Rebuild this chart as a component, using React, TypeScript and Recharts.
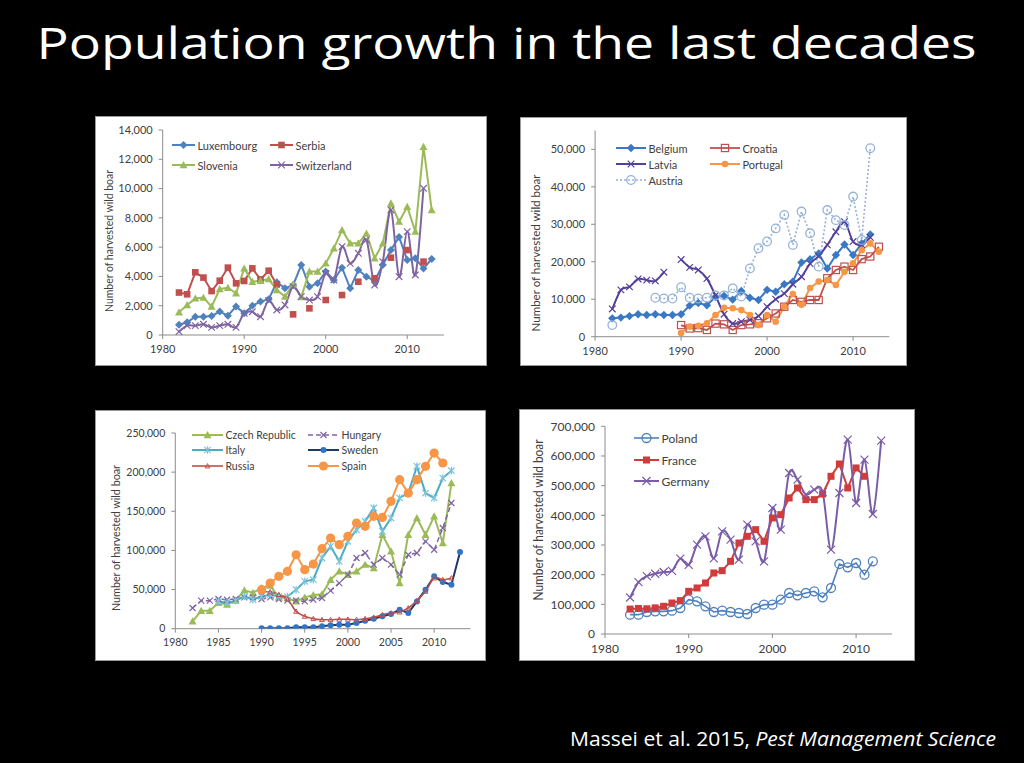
import React from 'react';
import { LineChart, Line, XAxis, YAxis, Legend } from 'recharts';

const FONT = 'Lato, "Open Sans", sans-serif';
const TITLE_FONT = '"Open Sans", Lato, sans-serif';
const TXT = '#404040';

// ---------- Panel 1 (1982–2013) ----------
const P1_YEARS = [1982, 1983, 1984, 1985, 1986, 1987, 1988, 1989, 1990, 1991, 1992, 1993, 1994, 1995, 1996, 1997, 1998, 1999, 2000, 2001, 2002, 2003, 2004, 2005, 2006, 2007, 2008, 2009, 2010, 2011, 2012, 2013];
const LUXEMBOURG = [700, 870, 1250, 1250, 1300, 1600, 1320, 1950, 1480, 2000, 2280, 2440, 3600, 3200, 3400, 4780, 3300, 3530, 4330, 3760, 4600, 3190, 4440, 3980, 3700, 4780, 5800, 6700, 5120, 5240, 4550, 5190];
const SERBIA = [2900, 2780, 4280, 3920, 3000, 3710, 4600, 3530, 3690, 4550, 3800, 4390, 3450, null, 1410, null, 1820, null, 2390, null, 2730, null, 3640, null, 3870, null, 5280, null, 5800, null, 5010, null];
const SLOVENIA = [1550, 2050, 2500, 2550, 1940, 3140, 3230, 2850, 4550, 3640, 3710, 3820, 3070, 2620, 3460, 2600, 4330, 4330, 4890, 5920, 7170, 6260, 6260, 6940, 5240, 6260, 8990, 7740, 8760, 7060, 12860, 8540];
const SWITZERLAND = [230, 640, 640, 730, 520, 640, 730, 520, 1480, 1590, 1250, 2350, 1710, 2050, 3300, 2620, 2390, 2620, 4210, 3760, 6030, 4890, 5580, 6490, 3410, 5000, 8540, 3980, 7060, 4100, 10020, null];
const P1_YTICKS = [0, 2000, 4000, 6000, 8000, 10000, 12000, 14000];
const P1_XTICKS = [1980, 1990, 2000, 2010];

// ---------- Panel 2 (1982–2013) ----------
const P2_YEARS = P1_YEARS;
const BELGIUM = [4900, 5100, 5500, 6000, 5800, 6000, 5800, 5800, 6000, 8300, 9000, 8400, 10600, 10900, 9900, 12200, 10400, 9800, 12500, 12000, 14000, 14700, 19800, 20700, 22200, 18200, 21800, 24600, 21800, 24900, 27300, null];
const CROATIA = [null, null, null, null, null, null, null, null, 3100, 2200, 2300, 1800, 3500, 3300, 1800, 3100, 3300, 3600, 4900, 6200, 8000, 9800, 9300, 9800, 9800, 15600, 17800, 18700, 17800, 20700, 21400, 24000];
const LATVIA = [7400, 12500, 13300, 15400, 15100, 14900, 17200, null, 20600, 18500, 17800, 15500, 11000, 6000, 3500, 4000, 4500, 5500, 8000, 10000, 11500, 14000, 16000, 19500, 21500, 24500, 28000, 30700, 25400, 24500, 26500, null];
const PORTUGAL = [null, null, null, null, null, null, null, null, 1000, 2700, 2900, 3600, 5800, 7700, 7600, 7100, 5800, 3100, 5800, 4000, 8000, 11400, 8500, 13000, 14700, 15100, 13800, 17300, 19600, 23100, 24900, 22700];
const AUSTRIA = [3100, null, null, null, null, 10400, 10200, 10200, 13200, 10400, 10200, 10400, 11000, 11000, 12900, 10700, 18200, 23600, 25400, 28900, 32500, 24500, 33400, 27600, 18700, 33800, 31100, 29800, 37400, 25800, 50300, null];
const P2_YTICKS = [0, 10000, 20000, 30000, 40000, 50000];
const P2_XTICKS = [1980, 1990, 2000, 2010];

// ---------- Panel 3 (1982–2013) ----------
const P3_YEARS = P1_YEARS;
const CZECH = [9400, 23000, 23000, 33000, 31000, 36000, 49000, 46000, 52000, 55000, 40000, 39000, 35000, 40000, 43000, 44000, 62600, 73300, 69000, 73300, 81800, 77500, 120100, 98800, 58300, 120100, 141400, 120100, 143500, 109500, 186100, null];
const HUNGARY = [26400, 35800, 35800, 38000, 37000, 38000, 40000, 40000, 38000, 40000, 38000, 36000, 36000, 34900, 37100, 39200, 48600, 58300, 69000, 90300, 96700, 81800, 90300, 81800, 69000, 94500, 96700, 111600, 100900, 128600, 160600, null];
const ITALY = [null, null, null, 35000, 33000, 35800, 41300, 37100, 41300, 43400, 41300, 41000, 49800, 60500, 62600, 90300, 105200, 86000, 111600, 126500, 137100, 154200, 124400, 141400, 167000, 173300, 207400, 173300, 167000, 192500, 201900, null];
const SWEDEN = [null, null, null, null, null, null, null, null, 500, 500, 600, 700, 1700, 1800, 2000, 3000, 4300, 5100, 5100, 7200, 10200, 12800, 15800, 18700, 24300, 20000, 34900, 49800, 66900, 59600, 56200, 98000];
const RUSSIA = [null, null, null, null, null, null, null, null, 47000, 47000, 43400, 38000, 22100, 15800, 12800, 11500, 11500, 12000, 12000, 11500, 12800, 14500, 17900, 20000, 21300, 26400, 35800, 47700, 64700, 62600, 64700, null];
const SPAIN = [null, null, null, null, null, null, null, null, 49800, 58300, 66900, 73300, 94500, 75400, 82600, 102200, 115800, 107300, 118000, 135000, 130800, 143500, 142200, 162700, 190400, 173300, 190400, 207400, 224400, 211700, null, null];
const P3_YTICKS = [0, 50000, 100000, 150000, 200000, 250000];
const P3_XTICKS = [1980, 1985, 1990, 1995, 2000, 2005, 2010];

// ---------- Panel 4 (1983–2013) ----------
const P4_YEARS = [1983, 1984, 1985, 1986, 1987, 1988, 1989, 1990, 1991, 1992, 1993, 1994, 1995, 1996, 1997, 1998, 1999, 2000, 2001, 2002, 2003, 2004, 2005, 2006, 2007, 2008, 2009, 2010, 2011, 2012, 2013];
const POLAND = [65200, 65200, 74200, 76400, 76400, 78700, 87600, 115700, 110100, 93300, 74200, 78700, 74200, 70800, 67400, 87600, 98900, 98900, 115700, 138200, 130300, 138200, 143800, 123600, 155100, 236000, 224700, 239300, 200000, 244900, null];
const FRANCE = [84000, 86000, 85000, 88000, 93300, 104500, 112400, 143800, 155100, 171900, 205600, 213500, 244900, 306700, 329200, 351700, 312400, 391000, 402200, 458400, 492100, 452800, 452800, 471900, 531500, 573000, 492100, 559600, 531500, null, null];
const GERMANY = [123000, 175000, 195000, 203000, 209000, 213000, 254000, 233000, 301000, 329000, 255000, 346100, 318000, 250600, 368500, 312400, 244900, 424700, 351700, 542700, 520200, 469700, 486500, 478000, 284300, 475300, 655100, 441600, 587600, 404500, 651700];
const P4_YTICKS = [0, 100000, 200000, 300000, 400000, 500000, 600000, 700000];
const P4_XTICKS = [1980, 1990, 2000, 2010];

const Y_LABEL = 'Number of harvested wild boar';

// Catmull-Rom style smoothing (like Excel "smoothed line")
const smoothCurve: any = (context: any) => {
  let pts: number[][] = [];
  return {
    areaStart() {},
    areaEnd() {},
    lineStart() { pts = []; },
    lineEnd() {
      if (!pts.length) return;
      context.moveTo(pts[0][0], pts[0][1]);
      for (let i = 0; i < pts.length - 1; i++) {
        const p0 = pts[i - 1] || pts[i];
        const p1 = pts[i];
        const p2 = pts[i + 1];
        const p3 = pts[i + 2] || p2;
        const t = 1 / 6;
        context.bezierCurveTo(
          p1[0] + (p2[0] - p0[0]) * t, p1[1] + (p2[1] - p0[1]) * t,
          p2[0] - (p3[0] - p1[0]) * t, p2[1] - (p3[1] - p1[1]) * t,
          p2[0], p2[1]
        );
      }
    },
    point(x: number, y: number) { pts.push([+x, +y]); },
  };
};

type S = {
  key: string; name: string; color: string; width: number; dash?: string;
  shape: string; mcolor?: string; msize: number; smooth?: boolean; values: (number | null)[];
};

function marker(shape: string, cx: number, cy: number, color: string, s: number, k: string) {
  switch (shape) {
    case 'diamond':
      return <path key={k} d={`M${cx},${cy - s}L${cx + s},${cy}L${cx},${cy + s}L${cx - s},${cy}Z`} fill={color} />;
    case 'square':
      return <rect key={k} x={cx - s} y={cy - s} width={2 * s} height={2 * s} fill={color} />;
    case 'osquare':
      return <rect key={k} x={cx - s} y={cy - s} width={2 * s} height={2 * s} fill="none" stroke={color} strokeWidth={1.2} />;
    case 'triangle':
      return <path key={k} d={`M${cx},${cy - s}L${cx + s},${cy + s * 0.8}L${cx - s},${cy + s * 0.8}Z`} fill={color} />;
    case 'otri':
      return <path key={k} d={`M${cx},${cy - s}L${cx + s},${cy + s * 0.8}L${cx - s},${cy + s * 0.8}Z`} fill="none" stroke={color} strokeWidth={1} />;
    case 'x':
      return <path key={k} d={`M${cx - s},${cy - s}L${cx + s},${cy + s}M${cx - s},${cy + s}L${cx + s},${cy - s}`} stroke={color} strokeWidth={1.2} fill="none" />;
    case 'star':
      return <path key={k} d={`M${cx - s},${cy - s}L${cx + s},${cy + s}M${cx - s},${cy + s}L${cx + s},${cy - s}M${cx},${cy - s * 1.2}L${cx},${cy + s * 1.2}`} stroke={color} strokeWidth={1.2} fill="none" />;
    case 'circle':
      return <circle key={k} cx={cx} cy={cy} r={s} fill={color} />;
    case 'ocircle':
      return <circle key={k} cx={cx} cy={cy} r={s} fill="none" stroke={color} strokeWidth={1.3} />;
    default:
      return <g key={k} />;
  }
}

type Box = { x: number; y: number; w: number; h: number };
type Plot = { left: number; top: number; right: number; bottom: number };
type LegItem = { key: string; x: number; y: number };

function PanelChart(props: {
  box: Box; plot: Plot; xDomain: number[]; xTicks: number[]; yDomain: number[]; yTicks: number[];
  years: number[]; series: S[]; legend: LegItem[]; legLen: number; legFont: number; tickFont: number;
  yLabel: { x: number; y: number; font: number; len: number };
}) {
  const { box, plot, xDomain, xTicks, yDomain, yTicks, years, series, legend, legLen, legFont, tickFont, yLabel } = props;
  const data = years.map((yr, i) => {
    const r: any = { year: yr };
    series.forEach((s) => { r[s.key] = s.values[i]; });
    return r;
  });
  const margin = { top: plot.top - box.y, right: box.x + box.w - plot.right, bottom: 0, left: 0 };
  const xh = box.y + box.h - plot.bottom;
  const yw = plot.left - box.x;
  const tick = { fontSize: tickFont, fill: TXT, fontFamily: FONT };
  const byKey: Record<string, S> = {};
  series.forEach((s) => { byKey[s.key] = s; });

  const legendContent = () => (
    <svg width={box.w} height={box.h} style={{ overflow: 'visible', display: 'block' }}>
      {legend.map((it) => {
        const s = byKey[it.key];
        const lx = it.x - box.x;
        const ly = it.y - box.y;
        return (
          <g key={it.key}>
            <line x1={lx} y1={ly} x2={lx + legLen} y2={ly} stroke={s.color} strokeWidth={s.width} strokeDasharray={s.dash} />
            {marker(s.shape, lx + legLen / 2, ly, s.mcolor || s.color, s.msize, 'm' + it.key)}
            <text x={lx + legLen + 2.5} y={ly} dominantBaseline="central" fontSize={legFont} fontFamily={FONT} fill={TXT}>{s.name}</text>
          </g>
        );
      })}
    </svg>
  );

  const yLabelContent = () => {
    const x = yLabel.x - box.x;
    const y = yLabel.y - box.y;
    return (
      <text x={x} y={y} transform={`rotate(-90 ${x} ${y})`} textAnchor="middle" dominantBaseline="central"
        fontSize={yLabel.font} fontFamily={FONT} fill={TXT} textLength={yLabel.len} lengthAdjust="spacingAndGlyphs">
        {Y_LABEL}
      </text>
    );
  };

  return (
    <div style={{ position: 'absolute', left: box.x, top: box.y, width: box.w, height: box.h, background: '#ffffff', outline: '1px solid #9a9a9a' }}>
      <LineChart width={box.w} height={box.h} data={data} margin={margin}>
        <XAxis dataKey="year" type="number" domain={xDomain} ticks={xTicks} allowDataOverflow height={xh}
          stroke="#8c8c8c" tickSize={4} tickMargin={6} tick={tick} interval={0} />
        <YAxis type="number" domain={yDomain} ticks={yTicks} allowDataOverflow width={yw}
          stroke="#8c8c8c" tickSize={4} tickMargin={6} tick={tick} interval={0}
          tickFormatter={(v: number) => v.toLocaleString('en-US')} label={yLabelContent} />
        {series.map((s) => (
          <Line key={s.key} dataKey={s.key} name={s.name} type={s.smooth ? smoothCurve : 'linear'}
            stroke={s.color} strokeWidth={s.width} strokeDasharray={s.dash} connectNulls={false}
            isAnimationActive={false} activeDot={false}
            dot={(p: any) => {
              const k = `${s.key}-${p.index}`;
              if (p.cx == null || p.cy == null || p.value == null || (Array.isArray(p.value) && p.value[1] == null)) return <g key={k} />;
              return marker(s.shape, p.cx, p.cy, s.mcolor || s.color, s.msize, k);
            }} />
        ))}
        <Legend layout="horizontal" verticalAlign="middle" align="center"
          wrapperStyle={{ left: 0, top: 0, width: box.w, height: box.h }} content={legendContent} />
      </LineChart>
    </div>
  );
}

const P1_SERIES: S[] = [
  { key: 'lux', name: 'Luxembourg', color: '#4F81BD', width: 2, shape: 'diamond', msize: 4, values: LUXEMBOURG },
  { key: 'ser', name: 'Serbia', color: '#C0504D', width: 2, shape: 'square', msize: 3.3, values: SERBIA },
  { key: 'slo', name: 'Slovenia', color: '#9BBB59', width: 2, shape: 'triangle', msize: 4, values: SLOVENIA },
  { key: 'swi', name: 'Switzerland', color: '#8064A2', width: 2, shape: 'x', msize: 3.3, smooth: true, values: SWITZERLAND },
];

const P2_SERIES: S[] = [
  { key: 'bel', name: 'Belgium', color: '#3B78C4', width: 2, shape: 'diamond', msize: 4.2, values: BELGIUM },
  { key: 'cro', name: 'Croatia', color: '#C0504D', width: 1.8, shape: 'osquare', msize: 3.6, values: CROATIA },
  { key: 'lat', name: 'Latvia', color: '#54409A', width: 2, shape: 'x', msize: 3.3, smooth: true, values: LATVIA },
  { key: 'por', name: 'Portugal', color: '#F79646', width: 2, shape: 'circle', msize: 3.3, values: PORTUGAL },
  { key: 'aus', name: 'Austria', color: '#95B3D7', width: 1.6, dash: '2 2', shape: 'ocircle', msize: 4.3, values: AUSTRIA },
];

const P3_SERIES: S[] = [
  { key: 'cze', name: 'Czech Republic', color: '#9BBB59', width: 2, shape: 'triangle', msize: 4, values: CZECH },
  { key: 'hun', name: 'Hungary', color: '#8064A2', width: 1.5, dash: '5 3', shape: 'x', msize: 3, values: HUNGARY },
  { key: 'ita', name: 'Italy', color: '#4BACC6', width: 2, shape: 'star', mcolor: '#7DC4DA', msize: 3.2, values: ITALY },
  { key: 'swe', name: 'Sweden', color: '#1F3864', width: 2, shape: 'circle', mcolor: '#2E75C6', msize: 3, values: SWEDEN },
  { key: 'rus', name: 'Russia', color: '#C0504D', width: 1.6, shape: 'otri', msize: 2.4, smooth: true, values: RUSSIA },
  { key: 'spa', name: 'Spain', color: '#F79646', width: 2, shape: 'circle', msize: 4.6, values: SPAIN },
];

const P4_SERIES: S[] = [
  { key: 'pol', name: 'Poland', color: '#4F81BD', width: 1.6, shape: 'ocircle', msize: 4.5, values: POLAND },
  { key: 'fra', name: 'France', color: '#D03B3B', width: 2, shape: 'square', msize: 3.5, values: FRANCE },
  { key: 'ger', name: 'Germany', color: '#7A5CA8', width: 2, shape: 'x', msize: 4, smooth: true, values: GERMANY },
];

export default function App() {
  return (
    <div style={{ position: 'absolute', left: 0, top: 0, width: 1024, height: 763, background: '#000', overflow: 'hidden' }}>
      <svg width={1024} height={763} style={{ position: 'absolute', left: 0, top: 0 }}>
        <text x={36.5} y={59} fill="#ffffff" fontSize={43} fontFamily={TITLE_FONT} textLength={940} lengthAdjust="spacingAndGlyphs">
          Population growth in the last decades
        </text>
        <text x={570} y={746} fill="#ffffff" fontSize={19.5} fontFamily={TITLE_FONT} textLength={426} lengthAdjust="spacingAndGlyphs">
          {'Massei et al. 2015, '}
          <tspan fontStyle="italic">Pest Management Science</tspan>
        </text>
      </svg>

      <PanelChart
        box={{ x: 96, y: 117, w: 390, h: 248 }}
        plot={{ left: 162.7, top: 130, right: 443.9, bottom: 335 }}
        xDomain={[1980, 2014.5]} xTicks={P1_XTICKS} yDomain={[0, 14000]} yTicks={P1_YTICKS}
        years={P1_YEARS} series={P1_SERIES}
        legend={[{ key: 'lux', x: 172, y: 145 }, { key: 'ser', x: 270, y: 145 }, { key: 'slo', x: 172, y: 165 }, { key: 'swi', x: 270, y: 165 }]}
        legLen={23} legFont={11} tickFont={11}
        yLabel={{ x: 108, y: 241, font: 11, len: 142 }}
      />

      <PanelChart
        box={{ x: 521, y: 118, w: 385, h: 247 }}
        plot={{ left: 595.1, top: 130.6, right: 889.2, bottom: 336.7 }}
        xDomain={[1980, 2014.2]} xTicks={P2_XTICKS} yDomain={[0, 55000]} yTicks={P2_YTICKS}
        years={P2_YEARS} series={P2_SERIES}
        legend={[{ key: 'bel', x: 616, y: 148 }, { key: 'cro', x: 710, y: 148 }, { key: 'lat', x: 616, y: 164 }, { key: 'por', x: 710, y: 164 }, { key: 'aus', x: 616, y: 180 }]}
        legLen={30} legFont={11} tickFont={11}
        yLabel={{ x: 535, y: 253, font: 12, len: 157 }}
      />

      <PanelChart
        box={{ x: 96, y: 411, w: 389, h: 249 }}
        plot={{ left: 175.3, top: 433, right: 470.4, bottom: 628.7 }}
        xDomain={[1980, 2014.2]} xTicks={P3_XTICKS} yDomain={[0, 250000]} yTicks={P3_YTICKS}
        years={P3_YEARS} series={P3_SERIES}
        legend={[{ key: 'cze', x: 192, y: 435 }, { key: 'hun', x: 308, y: 435 }, { key: 'ita', x: 192, y: 450 }, { key: 'swe', x: 308, y: 450 }, { key: 'rus', x: 192, y: 466 }, { key: 'spa', x: 308, y: 466 }]}
        legLen={31} legFont={10.5} tickFont={10.5}
        yLabel={{ x: 115, y: 538, font: 11, len: 146 }}
      />

      <PanelChart
        box={{ x: 520, y: 410, w: 394, h: 250 }}
        plot={{ left: 605, top: 426.3, right: 892.1, bottom: 634 }}
        xDomain={[1980, 2014.3]} xTicks={P4_XTICKS} yDomain={[0, 700000]} yTicks={P4_YTICKS}
        years={P4_YEARS} series={P4_SERIES}
        legend={[{ key: 'pol', x: 634, y: 438 }, { key: 'fra', x: 634, y: 460 }, { key: 'ger', x: 634, y: 481 }]}
        legLen={25} legFont={12} tickFont={12}
        yLabel={{ x: 538, y: 520, font: 12.5, len: 161 }}
      />
    </div>
  );
}
